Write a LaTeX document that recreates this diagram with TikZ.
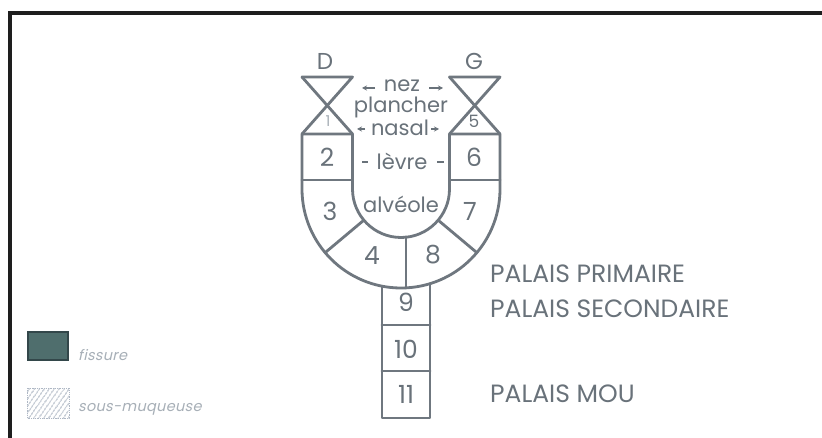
\documentclass[tikz,border=0pt]{standalone}
\usepackage{fontspec}
\setmainfont{Poppins}
\newfontfamily\slantfont[FakeSlant=0.22,LetterSpace=2]{Poppins}
\usetikzlibrary{patterns.meta,arrows.meta,calc}
\definecolor{lineg}{HTML}{6F777F}
\definecolor{textg}{HTML}{69727A}
\definecolor{faintg}{HTML}{A7AFB7}
\definecolor{frameblk}{HTML}{1E1E1E}
\definecolor{fissfill}{HTML}{4F6E6D}
\definecolor{fissedge}{HTML}{33474A}
\definecolor{hatchg}{HTML}{AEB7C4}
\begin{document}
\begin{tikzpicture}[x=1pt,y=-1pt,
  outline/.style={draw=lineg, line width=2.8pt, line join=round, line cap=round},
  lbl/.style={text=textg, inner sep=0pt, anchor=center},
  big/.style={lbl, font=\fontsize{25}{25}\selectfont},
  mid/.style={lbl, font=\fontsize{21}{21}\selectfont},
  palais/.style={lbl, anchor=west, font=\fontsize{25}{25}\selectfont},
  legtext/.style={text=faintg, inner sep=0pt, anchor=west, font=\slantfont\fontsize{14.5}{14.5}\selectfont},
  tinyarrow/.style={draw=textg, line width=1.3pt, -{Stealth[length=5pt,width=5pt]}},
  dashmark/.style={draw=textg, line width=1.6pt}]
\useasboundingbox (0,0) rectangle (822,438);
\fill[white] (0,0) rectangle (822,438);

% frame: top and left rules
\draw[frameblk, line width=4pt] (9.5,438) -- (9.5,13) -- (822,13);

% centre of the U
\coordinate (c) at (401,189);

% U-shaped band
\draw[outline] (302,134) -- (302,189) arc[start angle=180, end angle=360, radius=99pt]
  -- (500,134) -- (449.5,134) -- (449.5,189) arc[start angle=0, end angle=-180, radius=48.5pt]
  -- (352.5,134) -- cycle;

% hourglasses above each column
\draw[outline] (302,77) -- (352.5,77) -- (302,134);
\draw[outline] (302,77) -- (352.5,134);
\draw[outline] (449.5,77) -- (500,77) -- (449.5,134);
\draw[outline] (449.5,77) -- (500,134);

% dividers in the band
\draw[outline] (302,180) -- (352.5,180);
\draw[outline] (449.5,180) -- (500,180);
\draw[outline] ($(c)+(220:48.5pt)$) -- ($(c)+(220:99pt)$);
\draw[outline] ($(c)+(320:48.5pt)$) -- ($(c)+(320:99pt)$);
\draw[outline] (406,236.7) -- (406,287.9);

% stem
\draw[outline] (382,286.2) -- (382,418) -- (430,418) -- (430,283.7);
\draw[outline] (382,325) -- (430,325);
\draw[outline] (382,371) -- (430,371);

% side letters
\node[lbl, font=\fontsize{23}{23}\selectfont] (D) at (325,61) {D};
\node[lbl, font=\fontsize{23}{23}\selectfont] (G) at (474,61) {G};
\node[lbl, text=faintg, font=\fontsize{15}{15}\selectfont] (n1) at (328,121) {1};
\node[lbl, font=\fontsize{17}{17}\selectfont] (n5) at (474,121) {5};

% segment numbers
\node[big] (n2) at (327,157) {2};
\node[big] (n6) at (474,157) {6};
\node[big] (n3) at (330,211) {3};
\node[big] (n7) at (470,211) {7};
\node[big] (n4) at (372,256) {4};
\node[big] (n8) at (433,255) {8};
\node[big] (n9) at (406,302) {9};
\node[big] (n10) at (406,349) {10};
\node[big] (n11) at (406,394) {11};

% central labels
\node[mid] (nez) at (402,86) {nez};
\node[mid] (plancher) at (401,107) {plancher};
\node[mid] (nasal) at (400,128) {nasal};
\node[mid] (levre) at (402,161) {lèvre};
\node[mid] (alveole) at (401,204) {alvéole};

\coordinate (nezL) at (375,88);
\coordinate (nezLt) at (362,88);
\coordinate (nezR) at (429,88);
\coordinate (nezRt) at (443,88);
\draw[tinyarrow] (nezL) -- (nezLt);
\draw[tinyarrow] (nezR) -- (nezRt);
\coordinate (nasL) at (365,129);
\coordinate (nasLt) at (357,129);
\coordinate (nasR) at (431,129);
\coordinate (nasRt) at (439,129);
\draw[tinyarrow] (nasL) -- (nasLt);
\draw[tinyarrow] (nasR) -- (nasRt);
\coordinate (lvL1) at (362,162);
\coordinate (lvL2) at (368,162);
\coordinate (lvR1) at (437,162);
\coordinate (lvR2) at (444,162);
\draw[dashmark] (lvL1) -- (lvL2);
\draw[dashmark] (lvR1) -- (lvR2);

% palate labels
\node[palais] (prim) at (490,274) {PALAIS PRIMAIRE};
\node[palais] (sec) at (490,309) {PALAIS SECONDAIRE};
\node[palais] (mou) at (490,394) {PALAIS MOU};

% legend
\draw[fill=fissfill, draw=fissedge, line width=1.2pt] (28,332) rectangle (68,360);
\node[legtext] (fiss) at (78,355) {fissure};
\path[pattern={Lines[angle=55,distance=4pt,line width=1.1pt]}, pattern color=hatchg] (27,388) rectangle (69,418);
\draw[hatchg, line width=0.8pt, densely dotted] (27,388) rectangle (69,418);
\node[legtext] (sous) at (78,409) {sous-muqueuse};
\end{tikzpicture}
\end{document}
